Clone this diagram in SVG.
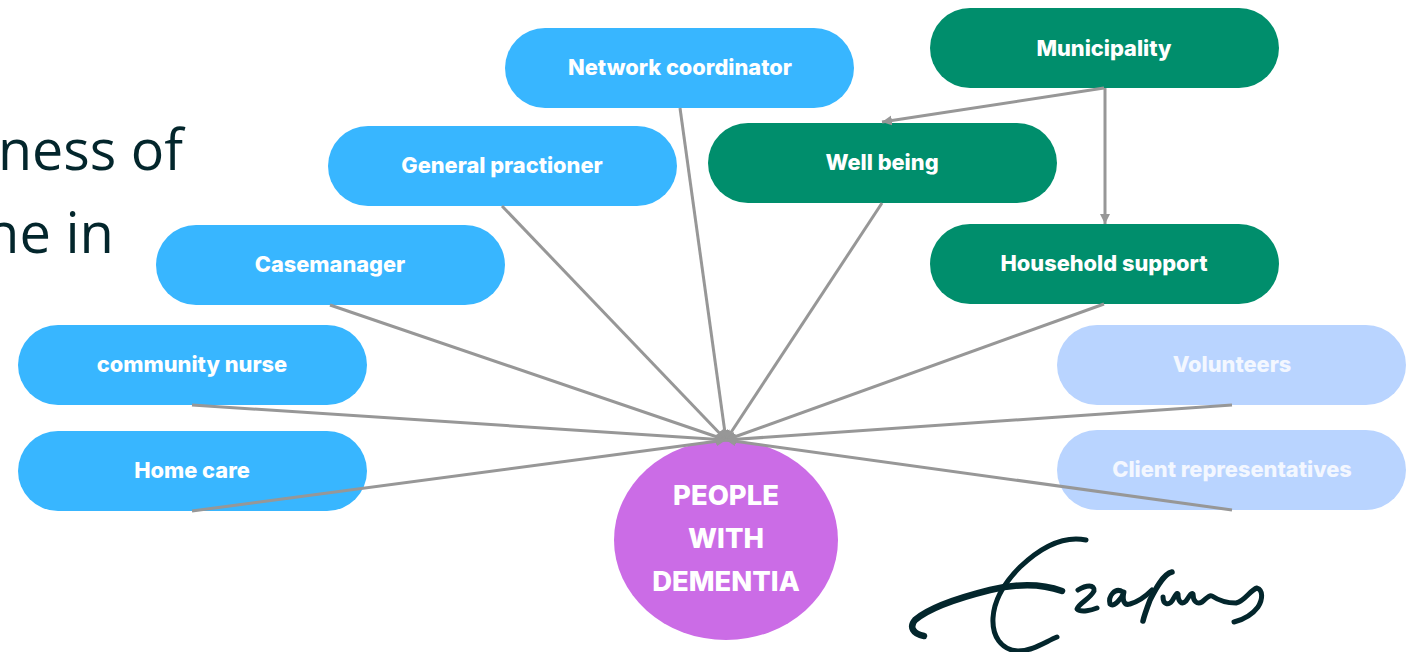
<svg xmlns="http://www.w3.org/2000/svg" width="1406" height="652" viewBox="0 0 1406 652">
<style>
.blue{fill:#38b6ff}.green{fill:#008e6c}.pale{fill:#b9d4ff}
.lbl{font-family:Inter,"Liberation Sans",sans-serif;font-weight:800;font-size:21.8px;fill:#fff;text-anchor:middle;dominant-baseline:central}
.pl{fill:#f3f7ff}
.big{font-family:Inter,"Liberation Sans",sans-serif;font-weight:800;font-size:27.4px;fill:#fff;text-anchor:middle}
.side{font-family:"Open Sans","Noto Sans",sans-serif;font-size:56px;fill:#03262c}
.c{stroke:#979797;stroke-width:3;fill:none}
.sig{stroke:#03262c;fill:none;stroke-linecap:round;stroke-linejoin:round}
</style>
<defs>
<marker id="a" markerUnits="userSpaceOnUse" markerWidth="12" markerHeight="12" refX="10" refY="5" orient="auto"><path d="M0 0L10 5L0 10Z" fill="#979797"/></marker>
</defs>
<rect width="1406" height="652" fill="#fff"/>
<text class="side" x="-2" y="170" textLength="185" lengthAdjust="spacingAndGlyphs">ness of</text>
<text class="side" x="-15" y="253" textLength="129" lengthAdjust="spacingAndGlyphs">ne in</text>
<g id="people"><ellipse cx="726" cy="540" rx="112" ry="100" fill="#cb6ce6"/>
<text class="big" x="726" y="505">PEOPLE</text><text class="big" x="726" y="548">WITH</text><text class="big" x="726" y="591">DEMENTIA</text></g>
<g id="network-coordinator"><rect class="blue" x="505" y="28" width="349" height="80" rx="40"/><text class="lbl" x="680" y="67">Network coordinator</text></g>
<g id="municipality"><rect class="green" x="930" y="8" width="349" height="80" rx="40"/><text class="lbl" x="1104" y="47.5">Municipality</text></g>
<g id="general-practioner"><rect class="blue" x="328" y="126" width="349" height="80" rx="40"/><text class="lbl" x="502" y="165">General practioner</text></g>
<g id="well-being"><rect class="green" x="708" y="123" width="349" height="80" rx="40"/><text class="lbl" x="882" y="162">Well being</text></g>
<g id="casemanager"><rect class="blue" x="156" y="225" width="349" height="80" rx="40"/><text class="lbl" x="330" y="264">Casemanager</text></g>
<g id="household-support"><rect class="green" x="930" y="224" width="349" height="80" rx="40"/><text class="lbl" x="1104" y="263">Household support</text></g>
<g id="community-nurse"><rect class="blue" x="18" y="325" width="349" height="80" rx="40"/><text class="lbl" x="192" y="364">community nurse</text></g>
<g id="volunteers"><rect class="pale" x="1057" y="325" width="349" height="80" rx="40"/><text class="lbl pl" x="1232" y="364">Volunteers</text></g>
<g id="home-care"><rect class="blue" x="18" y="431" width="349" height="80" rx="40"/><text class="lbl" x="192" y="470">Home care</text></g>
<g id="client-representatives"><rect class="pale" x="1057" y="430" width="349" height="80" rx="40"/><text class="lbl pl" x="1232" y="469">Client representatives</text></g>
<g id="connectors">
<path class="c" marker-end="url(#a)" d="M680 108L726 440"/>
<path class="c" marker-end="url(#a)" d="M502 206L726 440"/>
<path class="c" marker-end="url(#a)" d="M882 203L726 440"/>
<path class="c" marker-end="url(#a)" d="M330 305L726 440"/>
<path class="c" marker-end="url(#a)" d="M1104 304L726 440"/>
<path class="c" marker-end="url(#a)" d="M192 405L726 440"/>
<path class="c" marker-end="url(#a)" d="M1232 405L726 440"/>
<path class="c" marker-end="url(#a)" d="M192 511L726 440"/>
<path class="c" marker-end="url(#a)" d="M1232 510L726 440"/>
<path class="c" marker-end="url(#a)" d="M1104 88L882 122"/>
<path class="c" marker-end="url(#a)" d="M1105 88L1105 224"/>
</g>
<g id="signature">
<path class="sig" stroke-width="5" d="M1086 540C1062 535 1040 548 1020 567C1004 583 994 600 993 618C992 636 1001 650 1018 651C1032 651 1045 642 1057 637"/>
<path class="sig" stroke-width="6.5" d="M1062 591C1040 583 1015 584 990 590C958 598 930 607 915 620C909 627 913 634 924 636"/>
<path class="sig" stroke-width="5" d="M1078 590C1086 585 1095 584 1094 591C1090 599 1079 603 1077 609C1081 613 1092 610 1097 608"/>
<path class="sig" stroke-width="5" d="M1123 592C1115 587 1108 596 1110 604C1114 608 1122 598 1124 592C1122 600 1124 606 1130 604C1137 602 1146 596 1152 590"/>
<path class="sig" stroke-width="5.5" d="M1172 572C1163 574 1155 590 1150 600C1147 608 1144 616 1143 621"/>
<path class="sig" stroke-width="5" d="M1163 597C1163 604 1168 606 1172 601C1175 596 1177 592 1178 594C1178 602 1182 605 1186 601C1189 597 1191 592 1193 594C1193 601 1197 605 1202 602C1207 598 1209 595 1212 596C1218 600 1226 603 1236 603C1245 601 1250 590 1257 588C1263 590 1263 599 1258 607C1252 615 1242 620 1234 622"/>
</g>
</svg>
